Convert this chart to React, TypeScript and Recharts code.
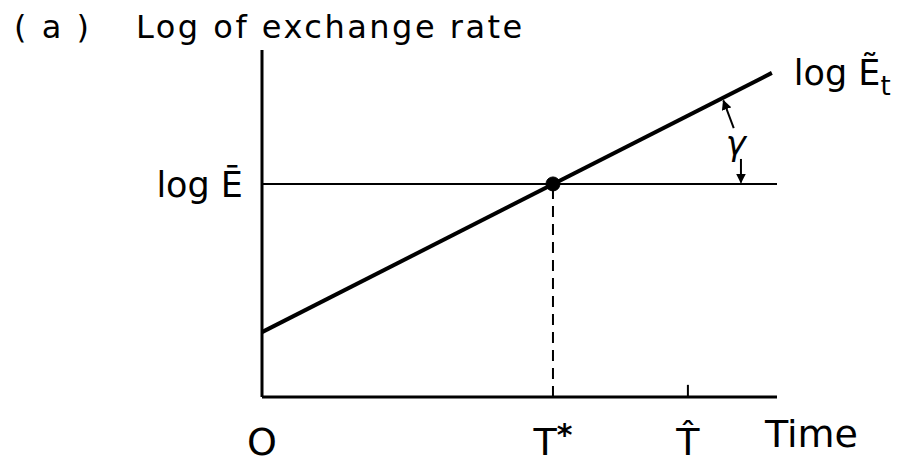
import { ComposedChart, Line, XAxis, YAxis, ReferenceLine, ReferenceDot } from 'recharts'

// reading of the sketch, in a 0..100 time / 0..100 log-rate box
const timeTicks = [0, 56.5, 82.7]
const timeTickLabels = ['O', 'T*', 'T\u0302']
const levelTicks = [61.4]
const levelTickLabels = ['log \u0112']
const pathTime = [0, 99]
const pathLogE = [18.7, 93.4]
const tStar = 56.5
const tHat = 82.7
const eBar = 61.4
const gammaUp = [{ x: 91.6, y: 77.5 }, { x: 89.6, y: 85.4 }]
const gammaDown = [{ x: 93.0, y: 68.6 }, { x: 93.0, y: 61.8 }]
const gammaPos = { x: 92.0, y: 72.5 }

const FONT = '"DejaVu Sans", sans-serif'

const lineData = pathTime.map((t, i) => ({ t, v: pathLogE[i] }))

function TimeTick({ x, y, payload }: any) {
  const idx = timeTicks.indexOf(payload.value)
  const label = timeTickLabels[idx] ?? ''
  if (label === 'T*') {
    return (
      <text x={x} y={y + 50} textAnchor="middle" fontFamily={FONT} fontSize={38} fill="#000">
        T<tspan fontSize={30} fontWeight="bold" dy={-10}>*</tspan>
      </text>
    )
  }
  return (
    <text x={x} y={y + 50} textAnchor="middle" fontFamily={FONT} fontSize={38} fill="#000">{label}</text>
  )
}

function LevelTick({ x, y, payload }: any) {
  const idx = levelTicks.indexOf(payload.value)
  return (
    <text x={x - 11} y={y + 13} textAnchor="end" fontFamily={FONT} fontSize={35} fill="#000">
      {levelTickLabels[idx]}
    </text>
  )
}

export default function App() {
  const titleStyle = { position: 'absolute' as const, top: 8, fontFamily: FONT, fontSize: 32, letterSpacing: 2.5, color: '#000', whiteSpace: 'pre' as const }
  return (
    <div style={{ position: 'absolute', left: 0, top: 0, width: 908, height: 463, background: '#fff' }}>
      <div style={{ ...titleStyle, left: 14 }}>( a )</div>
      <div style={{ ...titleStyle, left: 136 }}>Log of exchange rate</div>
      <ComposedChart width={908} height={463} data={lineData}
        margin={{ top: 50, right: 131, bottom: 65, left: 261 }}
        style={{ position: 'absolute', left: 0, top: 0 }}>
        <defs>
          <marker id="arrowHead" viewBox="0 0 10 10" refX="9" refY="5" markerWidth="5" markerHeight="5" orient="auto">
            <path d="M0,0 L10,5 L0,10 z" fill="#000" />
          </marker>
        </defs>
        <XAxis type="number" dataKey="t" domain={[0, 100]} ticks={timeTicks} height={1}
          tickLine={false} tick={<TimeTick />} axisLine={{ stroke: '#000', strokeWidth: 3 }} interval={0} />
        <YAxis type="number" domain={[0, 100]} ticks={levelTicks} width={1}
          tickLine={false} tick={<LevelTick />} axisLine={{ stroke: '#000', strokeWidth: 3 }} interval={0} />
        <ReferenceLine y={eBar} stroke="#000" strokeWidth={2} />
        <ReferenceLine segment={[{ x: tStar, y: 0 }, { x: tStar, y: eBar }]} stroke="#000" strokeWidth={2} strokeDasharray="11 7" />
        <ReferenceLine segment={[{ x: tHat, y: 0 }, { x: tHat, y: 3.5 }]} stroke="#000" strokeWidth={2} />
        <ReferenceLine segment={gammaUp} stroke="#000" strokeWidth={2} markerEnd="url(#arrowHead)" />
        <ReferenceLine segment={gammaDown} stroke="#000" strokeWidth={2} markerEnd="url(#arrowHead)" />
        <Line type="linear" dataKey="v" stroke="#000" strokeWidth={4} dot={false} isAnimationActive={false} />
        <ReferenceDot x={tStar} y={eBar} r={7} fill="#000" stroke="#000" />
        <ReferenceDot x={gammaPos.x} y={gammaPos.y} r={0} stroke="none"
          label={({ viewBox }: any) => (
            <text x={viewBox.x} y={viewBox.y + 10} textAnchor="middle" fontFamily={FONT} fontSize={34} fontStyle="italic" fill="#000">γ</text>
          )} />
        <ReferenceDot x={pathTime[1]} y={pathLogE[1]} r={0} stroke="none"
          label={({ viewBox }: any) => (
            <text x={viewBox.x + 22} y={viewBox.y + 12} fontFamily={FONT} fontSize={35} fill="#000">
              log {'\u1EBC'}<tspan fontSize={26} dy={10}>t</tspan>
            </text>
          )} />
        <ReferenceDot x={100} y={0} r={0} stroke="none" ifOverflow="visible"
          label={({ viewBox }: any) => (
            <text x={viewBox.x - 12} y={viewBox.y + 50} fontFamily={FONT} fontSize={38} fill="#000">Time</text>
          )} />
      </ComposedChart>
    </div>
  )
}
